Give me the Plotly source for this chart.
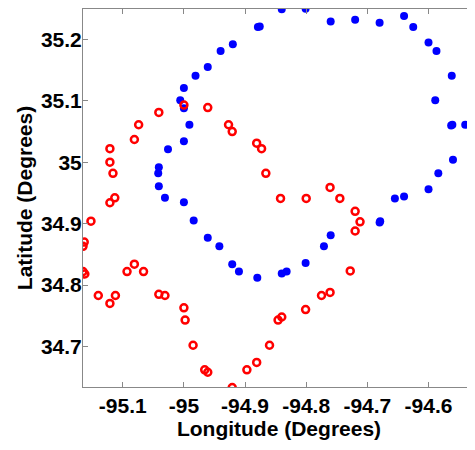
import plotly.graph_objects as go

blue_lon = [-94.879, -94.876, -94.920, -94.940, -94.961, -94.981, -95.000, -95.006, -95.000, -94.991,
            -95.000, -95.026, -95.041, -95.042, -95.041, -95.031, -95.000, -94.984, -94.961, -94.942,
            -94.921, -94.910, -94.880, -94.840, -94.832, -94.801, -94.771, -94.760, -94.680, -94.679,
            -94.655, -94.640, -94.600, -94.584, -94.560, -94.524, -94.540, -94.561, -94.563, -94.589,
            -94.562, -94.587, -94.600, -94.625, -94.640, -94.680, -94.720, -94.760, -94.801, -94.840,
            -94.520]
blue_lat = [35.220, 35.221, 35.192, 35.181, 35.155, 35.141, 35.121, 35.101, 35.088, 35.061,
            35.034, 35.021, 34.992, 34.982, 34.961, 34.942, 34.935, 34.905, 34.877, 34.863,
            34.834, 34.822, 34.812, 34.819, 34.822, 34.836, 34.863, 34.881, 34.902, 34.904,
            34.941, 34.944, 34.956, 34.982, 35.004, 35.021, 35.061, 35.061, 35.060, 35.101,
            35.141, 35.181, 35.195, 35.220, 35.238, 35.227, 35.232, 35.229, 35.250, 35.249,
            35.042]

red_lon = [-95.041, -95.000, -94.961, -95.074, -95.081, -95.121, -95.121, -95.116, -95.113, -95.121,
           -95.152, -95.163, -95.165, -95.165, -95.162, -95.140, -95.121, -95.112, -95.093, -95.081,
           -95.066, -95.041, -95.031, -95.000, -94.998, -94.985, -94.966, -94.961, -94.921, -94.897,
           -94.881, -94.860, -94.846, -94.840, -94.801, -94.775, -94.761, -94.728, -94.720, -94.712,
           -94.720, -94.745, -94.761, -94.800, -94.842, -94.866, -94.873, -94.881, -94.921, -94.927]
red_lat = [35.081, 35.093, 35.089, 35.061, 35.037, 35.022, 35.000, 34.982, 34.942, 34.934,
           34.904, 34.870, 34.863, 34.822, 34.818, 34.783, 34.770, 34.783, 34.822, 34.834,
           34.822, 34.785, 34.783, 34.763, 34.743, 34.702, 34.662, 34.658, 34.633, 34.662,
           34.674, 34.702, 34.743, 34.748, 34.760, 34.783, 34.788, 34.823, 34.888, 34.903,
           34.920, 34.941, 34.959, 34.941, 34.941, 34.982, 35.022, 35.031, 35.050, 35.061]

x_ticks = [-95.1, -95.0, -94.9, -94.8, -94.7, -94.6]
x_labels = ['-95.1', '-95', '-94.9', '-94.8', '-94.7', '-94.6']
y_ticks = [34.7, 34.8, 34.9, 35.0, 35.1, 35.2]
y_labels = ['34.7', '34.8', '34.9', '35', '35.1', '35.2']

fig = go.Figure()
fig.add_trace(go.Scatter(x=blue_lon, y=blue_lat, mode='markers',
                         marker=dict(symbol='circle', size=8, color='#0000ff')))
fig.add_trace(go.Scatter(x=red_lon, y=red_lat, mode='markers',
                         marker=dict(symbol='circle-open', size=7, color='#ff0000',
                                     line=dict(width=2.5, color='#ff0000'))))

axis_font = dict(family='Liberation Sans', size=21, color='black')
common = dict(showgrid=False, zeroline=False, showline=True, mirror='ticks',
              linecolor='#888888', linewidth=1, ticks='inside', ticklen=5,
              tickcolor='#888888', tickfont=axis_font, automargin=False)

fig.update_xaxes(range=[-95.165, -94.524], tickvals=x_ticks,
                 ticktext=['<b>%s</b>' % t for t in x_labels],
                 title=dict(text='<b>Longitude (Degrees)</b>', font=axis_font, standoff=4),
                 **common)
fig.update_yaxes(range=[34.634, 35.2495], tickvals=y_ticks,
                 ticktext=['<b>%s</b>' % t for t in y_labels], ticklabelstandoff=-4,
                 title=dict(text='<b>Latitude (Degrees)</b>', font=axis_font, standoff=2),
                 **common)

# page body has an 8px margin, so the plot area is shifted up/left by that much
fig.update_layout(width=475, height=450, showlegend=False,
                  plot_bgcolor='white', paper_bgcolor='white',
                  margin=dict(l=75, r=8, t=1, b=71))
fig.write_html("out.html")
